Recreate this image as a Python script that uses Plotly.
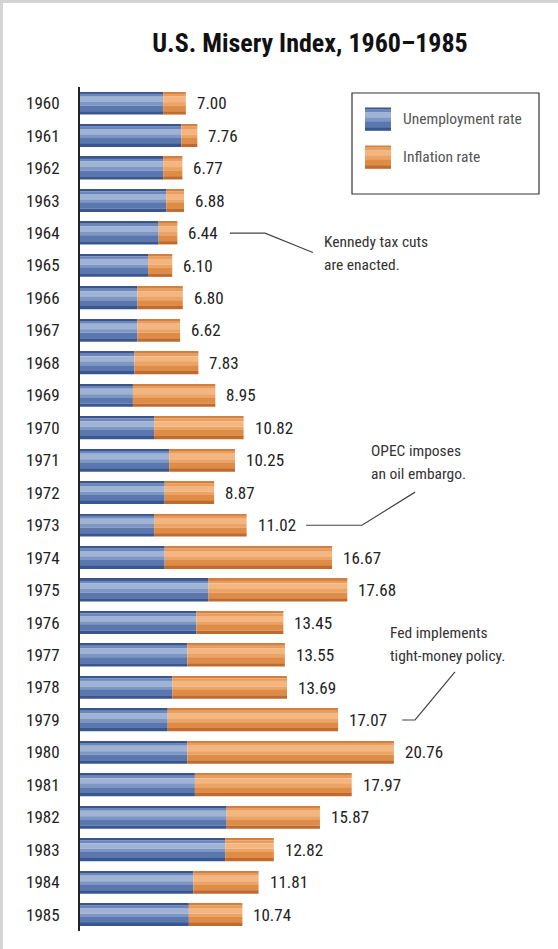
import plotly.graph_objects as go

years = list(range(1960, 1986))
unemployment = [5.5, 6.7, 5.5, 5.7, 5.2, 4.5, 3.8, 3.8, 3.6, 3.5, 4.9, 5.9, 5.6,
                4.9, 5.6, 8.5, 7.7, 7.1, 6.1, 5.8, 7.1, 7.6, 9.7, 9.6, 7.5, 7.2]
inflation = [1.50, 1.06, 1.27, 1.18, 1.24, 1.60, 3.00, 2.82, 4.23, 5.45, 5.92, 4.35, 3.27,
             6.12, 11.07, 9.18, 5.75, 6.45, 7.59, 11.27, 13.66, 10.37, 6.17, 3.22, 4.31, 3.54]
misery = [7.00, 7.76, 6.77, 6.88, 6.44, 6.10, 6.80, 6.62, 7.83, 8.95, 10.82, 10.25, 8.87,
          11.02, 16.67, 17.68, 13.45, 13.55, 13.69, 17.07, 20.76, 17.97, 15.87, 12.82, 11.81, 10.74]
series_names = ["Unemployment rate", "Inflation rate"]
title_text = "U.S. Misery Index, 1960–1985"
notes = [
    {"year": 1964, "lines": ["Kennedy tax cuts", "are enacted."]},
    {"year": 1973, "lines": ["OPEC imposes", "an oil embargo."]},
    {"year": 1979, "lines": ["Fed implements", "tight-money policy."]},
]

FONT = "Liberation Sans Narrow, Roboto Condensed, Arial Narrow, sans-serif"
W, H = 558, 949
ML, MR, MT, MB = 80, 18, 87, 18
PW, PH = W - ML - MR, H - MT - MB
XMAX = PW / 15.12
PITCH = PH / 26.0

def px(x):
    return (x - ML) / PW

def py(y):
    return (H - MB - y) / PH

# gradient bands (fraction from top, fraction to, colour)
BLUE_BANDS = [(0.0, 0.08, "#3a558e"), (0.08, 0.2, "#6a86bb"), (0.2, 0.45, "#9fb3d5"),
              (0.45, 0.6, "#7d96c4"), (0.6, 0.86, "#5a78af"), (0.86, 1.0, "#3a568f")]
ORANGE_BANDS = [(0.0, 0.08, "#d27f40"), (0.08, 0.2, "#e89d5e"), (0.2, 0.45, "#f4b681"),
                (0.45, 0.6, "#eca466"), (0.6, 0.86, "#de8c46"), (0.86, 1.0, "#bf6a2f")]

fig = go.Figure()
bar_w = 0.69
half = bar_w / 2
for name, vals, bases, bands in [
    (series_names[0], unemployment, [0] * len(years), BLUE_BANDS),
    (series_names[1], inflation, unemployment, ORANGE_BANDS),
]:
    for i, (f0, f1, col) in enumerate(bands):
        fig.add_trace(go.Bar(
            y=years, x=vals, base=bases, orientation="h",
            width=bar_w * (f1 - f0) + 0.004, offset=-half + bar_w * f0, name=name,
            marker=dict(color=col, line=dict(width=0)),
            showlegend=False, hoverinfo="x+name" if i == 2 else "skip",
        ))

# value labels
for yr, tot in zip(years, misery):
    fig.add_annotation(x=tot, y=yr, xref="x", yref="y", text=f"{tot:.2f}",
                       showarrow=False, xanchor="left", xshift=9,
                       font=dict(family=FONT, size=17, color="#222"))

# notes with leader lines
note_geom = {
    1964: dict(lx0=9.92, lx1=12.24, ex=15.4, ey=1964.6, tx=16.0, ty=1964.26),
    1973: dict(lx0=14.95, lx1=18.65, ex=22.16, ey=1971.98, tx=19.12, ty=1970.7),
    1979: dict(lx0=21.3, lx1=22.16, ex=24.8, ey=1977.52, tx=20.4, ty=1976.33),
}
for n in notes:
    g = note_geom[n["year"]]
    fig.add_shape(type="path", xref="x", yref="y",
                  path=f"M {g['lx0']},{n['year']} L {g['lx1']},{n['year']} L {g['ex']},{g['ey']}",
                  line=dict(color="#444", width=1.2))
    for k, line in enumerate(n["lines"]):
        fig.add_annotation(x=g["tx"], y=g["ty"] + k * 23 / PITCH, xref="x", yref="y", text=line,
                           showarrow=False, xanchor="left", yanchor="middle", align="left",
                           font=dict(family=FONT, size=15.5, color="#333"))

# legend box
fig.add_shape(type="rect", xref="paper", yref="paper",
              x0=px(352), x1=px(539), y0=py(194), y1=py(93),
              line=dict(color="#333", width=1.2), fillcolor="white")
for (nm, bands, yc) in [(series_names[0], BLUE_BANDS, 119), (series_names[1], ORANGE_BANDS, 157)]:
    top, hgt = yc - 11.5, 23
    for f0, f1, col in bands:
        fig.add_shape(type="rect", xref="paper", yref="paper",
                      x0=px(365), x1=px(391), y0=py(top + hgt * f1 + 0.3), y1=py(top + hgt * f0),
                      line=dict(width=0), fillcolor=col)
    fig.add_annotation(x=px(401), y=py(yc), xref="paper", yref="paper", text=nm,
                       showarrow=False, xanchor="left", yanchor="middle",
                       font=dict(family=FONT, size=15.5, color="#555"))

# outer frame (top and left edges)
fig.add_shape(type="line", xref="paper", yref="paper",
              x0=px(0), x1=px(W), y0=py(1.5), y1=py(1.5),
              line=dict(color="#d4d4d4", width=3))
fig.add_shape(type="line", xref="paper", yref="paper",
              x0=px(1.5), x1=px(1.5), y0=py(0), y1=py(H),
              line=dict(color="#d4d4d4", width=3))

fig.update_layout(
    width=W, height=H,
    margin=dict(l=ML, r=MR, t=MT, b=MB),
    barmode="overlay",
    paper_bgcolor="white", plot_bgcolor="white",
    showlegend=False,
    title=dict(text=f"<b>{title_text}</b>", x=0.5, xref="paper", xanchor="center",
               y=1 - 43 / H, yanchor="middle",
               font=dict(family=FONT, size=26, color="#111")),
    xaxis=dict(visible=False, range=[0, XMAX], fixedrange=True),
    yaxis=dict(autorange=False, range=[1985.5, 1959.5], tickmode="array",
               tickvals=years, ticktext=[str(y) for y in years],
               showline=True, linecolor="#222", linewidth=2, ticks="",
               ticklabelstandoff=15, showgrid=False, zeroline=False, fixedrange=True,
               tickfont=dict(family=FONT, size=17, color="#222")),
)
fig.write_html("out.html", config={"displayModeBar": False},
               post_script="document.body.style.margin='0';")
